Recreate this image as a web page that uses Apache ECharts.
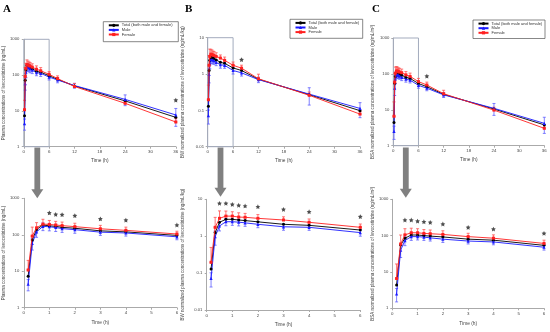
<!DOCTYPE html>
<html><head><meta charset="utf-8">
<script src="https://cdn.jsdelivr.net/npm/echarts@6/dist/echarts.min.js"></script>
<style>html,body{margin:0;padding:0;background:#fff}#c{width:550px;height:332px}</style>
</head><body><div id="c"></div>
<script>
// ---- data ----
const times = [0.17,0.33,0.5,0.75,1,1.25,1.5,2,3,4,6,8,12,24,36];
const seriesNames = ['Total (both male and female)','Male','Female'];
const xTicksTop = [0,36,6];      // min, max, step
const xTicksBottom = [0,6,1];

// Panel A: ng/mL
const aTotal  = [7.3,72,140,185,176,170,160,151,128,120,96,76,50,19,6.6];
const aMale   = [4.4,58,120,170,166,158,148,138,118,112,88,73,51,21,7.7];
const aFemale = [10.8,92,155,196,192,185,178,167,146,132,105,80,48,16.3,4.9];
const aMaleSD   = [1.5,20,35,40,38,35,32,28,22,20,15,12,8,7,4];
const aFemaleSD = [9,70,60,70,55,48,45,40,35,30,20,15,10,3,1.2];
const aStarsTop = [[36,20]];
const aStarsBottom = [[1,400],[1.25,362],[1.5,358],[2,335],[3,273],[4,253],[6,185]];
const aYRange = [1,1000];

// Panel B: ng/mL/kg
const bTotal  = [0.13,1.25,2.38,2.87,2.87,2.75,2.65,2.45,2.1,1.97,1.47,1.25,0.72,0.27,0.098];
const bMale   = [0.072,0.97,1.89,2.47,2.47,2.4,2.3,2.1,1.8,1.74,1.25,1.08,0.70,0.28,0.113];
const bFemale = [0.196,1.74,3.05,3.5,3.5,3.3,3.25,3.05,2.75,2.38,1.74,1.45,0.74,0.26,0.079];
const bMaleSD   = [0.03,0.4,0.5,0.55,0.5,0.5,0.45,0.4,0.35,0.3,0.25,0.2,0.12,0.14,0.05];
const bFemaleSD = [0.3,1.5,1.8,1.3,1.1,1.0,0.9,0.8,0.6,0.55,0.4,0.3,0.25,0.06,0.015];
const bStarsTop = [[8,2.5]];
const bStarsBottom = [[0.5,7.8],[0.75,7.8],[1,7.3],[1.25,6.9],[1.5,6.6],[2,6.3],[3,5.35],[4,4.6],[6,3.4]];
const bYRange = [0.01,10];

// Panel C: ng/mL/m2
const cTotal  = [4.4,55,85,104,104,100,97,92,80,75,54,44,27,10.5,3.8];
const cMale   = [2.5,40,73,94,94,91,87,80,71,67,48,40,26,11,4.2];
const cFemale = [6.6,59,105,120,120,115,113,108,94,85,61,49,28,9.8,3.05];
const cMaleSD   = [1,15,20,20,18,17,16,15,12,11,8,6,4,4,2];
const cFemaleSD = [10,45,50,40,35,32,30,28,22,20,14,10,7,2,0.8];
const cStarsTop = [[8,87]];
const cStarsBottom = [[0.5,269],[0.75,269],[1,251],[1.25,241],[1.5,232],[2,209],[3,169],[4,152],[6,116]];
const cYRange = [1,1000];

const panels = [
  {letter:'A', total:aTotal, male:aMale, female:aFemale, maleSD:aMaleSD, femaleSD:aFemaleSD, starsTop:aStarsTop, starsBottom:aStarsBottom, yr:aYRange,
   yName:'Plasma concentrations of levocetirizine (ng/mL)'},
  {letter:'B', total:bTotal, male:bMale, female:bFemale, maleSD:bMaleSD, femaleSD:bFemaleSD, starsTop:bStarsTop, starsBottom:bStarsBottom, yr:bYRange,
   yName:'BW normalized plasma concentrations of levocetirizine (ng/mL/kg)'},
  {letter:'C', total:cTotal, male:cMale, female:cFemale, maleSD:cMaleSD, femaleSD:cFemaleSD, starsTop:cStarsTop, starsBottom:cStarsBottom, yr:cYRange,
   yName:'BSA normalized plasma concentrations of levocetirizine (ng/mL/m\u00b2)'}
];

// ---- layout ----
const gridPos = [
  {left:23.8, top:39.3, width:152,   height:107.4, off:2.5, gap:14},
  {left:207.7,top:37.7, width:152.3, height:109,   off:1.7, gap:21},
  {left:393.3,top:38,   width:151,   height:107.7, off:2,   gap:16},
  {left:23.3, top:198.3,width:153.6, height:109.4, off:2.6, gap:14},
  {left:206.7,top:199.3,width:153.6, height:110.7, off:2.4, gap:19.5},
  {left:392.3,top:199.3,width:151.7, height:109,   off:2,   gap:15.5}
];
const legendBox = [
  {x:103.3,y:21.7,w:75,h:20},
  {x:290,y:19.3,w:72.7,h:19},
  {x:473,y:20,w:72,h:18.5}
];
const letterPos = [[3,4],[185,4],[372,4]];
const arrowX = [37.3, 220.5, 405.8];
const arrowTip = [198.3, 196.7, 197.7];

const COL = {total:'#000000', male:'#1a1aff', female:'#ff2020'};
const ECOL = {male:'#6060ff', female:'#ff5050'};
const TXT = '#444';
const FONT = 'Liberation Sans, Arial, sans-serif';
const starPath = 'path://M0,-10L2.9,-4L9.5,-3.1L4.7,1.5L5.9,8.1L0,5L-5.9,8.1L-4.7,1.5L-9.5,-3.1L-2.9,-4Z';

function makeErr(color){
  return function(params, api){
    const x = api.value(0), lo = api.value(1), hi = api.value(2);
    const a = api.coord([x, lo]), b = api.coord([x, hi]);
    const w = 1.5;
    const style = {stroke: color, lineWidth: 0.8, fill: null};
    return {type:'group', children:[
      {type:'line', shape:{x1:a[0],y1:a[1],x2:b[0],y2:b[1]}, style},
      {type:'line', shape:{x1:b[0]-w,y1:b[1],x2:b[0]+w,y2:b[1]}, style},
      {type:'line', shape:{x1:a[0]-w,y1:a[1],x2:a[0]+w,y2:a[1]}, style}
    ]};
  };
}
const logLabel = v => String(+Number(v).toPrecision(3));

const grids = [], xAxes = [], yAxes = [], series = [];
gridPos.forEach((g,i)=>{
  const p = panels[i%3];
  const isTop = i < 3;
  const xt = isTop ? xTicksTop : xTicksBottom;
  grids.push({left:g.left, top:g.top, width:g.width, height:g.height, containLabel:false});
  xAxes.push({
    gridIndex:i, type:'value', min:xt[0], max:xt[1], interval:xt[2],
    axisLine:{show:true, onZero:false, lineStyle:{color:'#aaa', width:1}},
    axisTick:{show:true, length:2, lineStyle:{color:'#aaa'}},
    axisLabel:{fontSize:4.4, color:TXT, margin:3.5, fontFamily:FONT},
    splitLine:{show:false},
    name:'Time (h)', nameLocation:'middle', nameGap: isTop ? 11.5 : 12.5,
    nameTextStyle:{fontSize:4.8, color:TXT, fontFamily:FONT}
  });
  yAxes.push({
    gridIndex:i, type:'log', logBase:10, min:p.yr[0], max:p.yr[1], offset:g.off,
    axisLine:{show:true, lineStyle:{color:'#aaa', width:1}},
    axisTick:{show:true, length:2, lineStyle:{color:'#aaa'}},
    axisLabel:{fontSize:4.2, color:TXT, margin:2, fontFamily:FONT, formatter:logLabel},
    splitLine:{show:false}, minorTick:{show:false},
    name:p.yName, nameLocation:'middle', nameGap:g.gap, nameRotate:90,
    nameTextStyle:{fontSize:4.5, color:TXT, fontFamily:FONT}
  });
  const n = isTop ? times.length : times.filter(t=>t<=6).length;
  const ts = times.slice(0,n);
  const pts = arr => ts.map((t,j)=>[t, arr[j]]);
  series.push({type:'custom', xAxisIndex:i, yAxisIndex:i, silent:true, z:1,
    renderItem:makeErr(ECOL.male), encode:{x:0,y:[1,2]},
    data: ts.map((t,j)=>[t, p.male[j]-p.maleSD[j], p.male[j]+p.maleSD[j]])});
  series.push({type:'custom', xAxisIndex:i, yAxisIndex:i, silent:true, z:1,
    renderItem:makeErr(ECOL.female), encode:{x:0,y:[1,2]},
    data: ts.map((t,j)=>[t, p.female[j], p.female[j]+p.femaleSD[j]])});
  const tot = {type:'line', name:seriesNames[0], xAxisIndex:i, yAxisIndex:i, data:pts(p.total),
    symbol:'circle', symbolSize:3, lineStyle:{width:0.9, color:COL.total}, itemStyle:{color:COL.total}, z:3};
  if (isTop) {
    tot.markArea = {silent:true, itemStyle:{color:'rgba(0,0,0,0)', borderColor:'#a3abbd', borderWidth:1},
      data:[[{coord:[xTicksBottom[0], p.yr[1]]},{coord:[xTicksBottom[1], p.yr[0]]}]]};
  }
  series.push(tot);
  series.push({type:'line', name:seriesNames[1], xAxisIndex:i, yAxisIndex:i, data:pts(p.male),
    symbol:'triangle', symbolSize:3.2, lineStyle:{width:0.9, color:COL.male}, itemStyle:{color:COL.male}, z:3});
  series.push({type:'line', name:seriesNames[2], xAxisIndex:i, yAxisIndex:i, data:pts(p.female),
    symbol:'rect', symbolSize:3, lineStyle:{width:0.9, color:COL.female}, itemStyle:{color:COL.female}, z:4});
  series.push({type:'scatter', name:'sig'+i, xAxisIndex:i, yAxisIndex:i, silent:true,
    data: isTop ? p.starsTop : p.starsBottom, symbol:starPath, symbolSize:4.8,
    itemStyle:{color:'#222'}, z:5});
});

const legends = legendBox.map(b=>({
  left:b.x+4.5, top:b.y+1.6, orient:'vertical', padding:0, itemGap:0.6,
  itemWidth:10, itemHeight:4, selectedMode:false,
  textStyle:{fontSize:4, color:'#333', fontFamily:FONT, padding:[0,0,0,-2]},
  data:seriesNames.slice()
}));

const graphic = [];
legendBox.forEach(b=>graphic.push({type:'rect', shape:{x:b.x,y:b.y,width:b.w,height:b.h},
  style:{fill:'#fff', stroke:'#555', lineWidth:0.7}, z:-1, silent:true}));
panels.forEach((p,k)=>graphic.push({type:'text', left:letterPos[k][0], top:letterPos[k][1],
  style:{text:p.letter, font:'bold 11px "Liberation Serif", "DejaVu Serif", serif', fill:'#000'}}));
arrowX.forEach((cx,k)=>{
  const tip = arrowTip[k];
  graphic.push({type:'rect', shape:{x:cx-2.9, y:147.5, width:5.8, height:tip-147.5-8}, style:{fill:'#808080'}, silent:true});
  graphic.push({type:'polygon', shape:{points:[[cx-6,tip-9],[cx+6,tip-9],[cx,tip]]}, style:{fill:'#808080'}, silent:true});
});

const chart = echarts.init(document.getElementById('c'), null, {renderer:'canvas'});
chart.setOption({
  animation:false,
  backgroundColor:'#fff',
  textStyle:{fontFamily:FONT},
  grid:grids, xAxis:xAxes, yAxis:yAxes, series:series, legend:legends, graphic:graphic
});
</script></body></html>
